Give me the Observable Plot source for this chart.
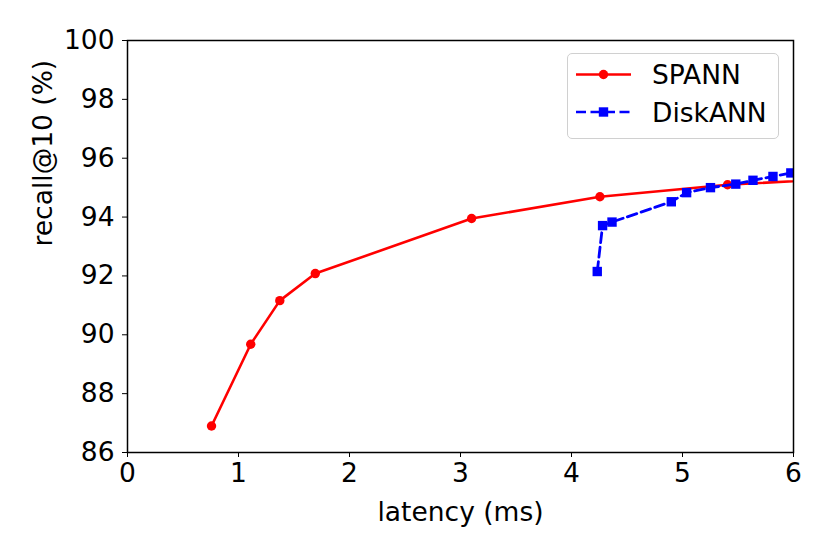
<!DOCTYPE html>
<html>
<head>
<meta charset="utf-8">
<script src="https://cdn.jsdelivr.net/npm/d3@7"></script>
<script src="https://cdn.jsdelivr.net/npm/@observablehq/plot@0.6"></script>
<style>
  html, body { margin: 0; padding: 0; background: #fff; }
  #wrap { position: relative; width: 830px; height: 554px; font-family: "DejaVu Sans", sans-serif; }
  #legend { position: absolute; left: 567px; top: 53px; width: 212px; height: 86px; box-sizing: border-box;
            border: 1.3px solid #d0d0d0; border-radius: 5px; background: rgba(255,255,255,0.85); }
</style>
</head>
<body>
<div id="wrap"></div>
<script>
// SPANN series
const spannLatency = [0.757, 1.11, 1.372, 1.692, 3.10, 4.256, 5.406, 6.9];
const spannRecall  = [86.90, 89.68, 91.16, 92.08, 93.95, 94.69, 95.10, 95.40];
// DiskANN series
const diskLatency = [4.232, 4.28, 4.365, 4.899, 5.037, 5.252, 5.48, 5.635, 5.815, 5.976];
const diskRecall  = [92.15, 93.71, 93.83, 94.52, 94.83, 95.00, 95.12, 95.25, 95.38, 95.50];
// ticks
const xTicks = [0, 1, 2, 3, 4, 5, 6];
const yTicks = [86, 88, 90, 92, 94, 96, 98, 100];
const seriesNames = ["SPANN", "DiskANN"];
const seriesColors = ["#ff0000", "#0000ff"];

const spann = spannLatency.map((x, i) => ({x, y: spannRecall[i]}));
const disk = diskLatency.map((x, i) => ({x, y: diskRecall[i]}));

const fs = 26.5;
const chart = Plot.plot({
  width: 830,
  height: 554,
  marginLeft: 127,
  marginRight: 37,
  marginTop: 40,
  marginBottom: 102,
  style: {fontFamily: "DejaVu Sans, sans-serif", fontSize: fs + "px", color: "black", background: "white"},
  x: {domain: [0, 6]},
  y: {domain: [86, 100]},
  marks: [
    Plot.line(spann, {x: "x", y: "y", stroke: seriesColors[0], strokeWidth: 2.6, clip: true}),
    Plot.dot(spann, {x: "x", y: "y", fill: seriesColors[0], r: 4.7, symbol: "circle", clip: true}),
    Plot.line(disk, {x: "x", y: "y", stroke: seriesColors[1], strokeWidth: 2.8, strokeDasharray: "10,4.5", clip: true}),
    Plot.dot(disk, {x: "x", y: "y", fill: seriesColors[1], r: 5.3, symbol: "square", clip: true}),
    Plot.frame({stroke: "black", strokeWidth: 1.5}),
    Plot.axisX({ticks: xTicks, tickSize: 5, tickPadding: 6, fontSize: fs, label: null, tickFormat: d => d}),
    Plot.axisY({ticks: yTicks, tickSize: 5, tickPadding: 8, fontSize: fs, label: null, tickFormat: d => d}),
    Plot.text(["latency (ms)"], {frameAnchor: "bottom", dy: 68, fontSize: fs}),
    Plot.text(["recall@10 (%)"], {frameAnchor: "left", dx: -84, rotate: -90, fontSize: fs})
  ]
});
const wrap = document.getElementById("wrap");
wrap.appendChild(chart);

// legend overlay
const leg = document.createElement("div");
leg.id = "legend";
wrap.appendChild(leg);
const lsvg = d3.select(leg).append("svg").attr("width", 212).attr("height", 86).style("position", "absolute").style("left", "-1px").style("top", "-1px");
const rows = [
  {name: seriesNames[0], color: seriesColors[0], y: 21.5, dash: null, shape: "circle"},
  {name: seriesNames[1], color: seriesColors[1], y: 59, dash: "10,4.5", shape: "square"}
];
for (const r of rows) {
  lsvg.append("line").attr("x1", 9).attr("x2", 64).attr("y1", r.y).attr("y2", r.y)
    .attr("stroke", r.color).attr("stroke-width", 2.7).attr("stroke-dasharray", r.dash);
  if (r.shape === "circle") lsvg.append("circle").attr("cx", 36.5).attr("cy", r.y).attr("r", 4.7).attr("fill", r.color);
  else lsvg.append("rect").attr("x", 36.5 - 4.7).attr("y", r.y - 4.7).attr("width", 9.4).attr("height", 9.4).attr("fill", r.color);
  lsvg.append("text").attr("x", 85).attr("y", r.y).attr("dy", "0.36em").attr("font-size", fs + "px")
    .attr("font-family", "DejaVu Sans, sans-serif").text(r.name);
}
</script>
</body>
</html>
